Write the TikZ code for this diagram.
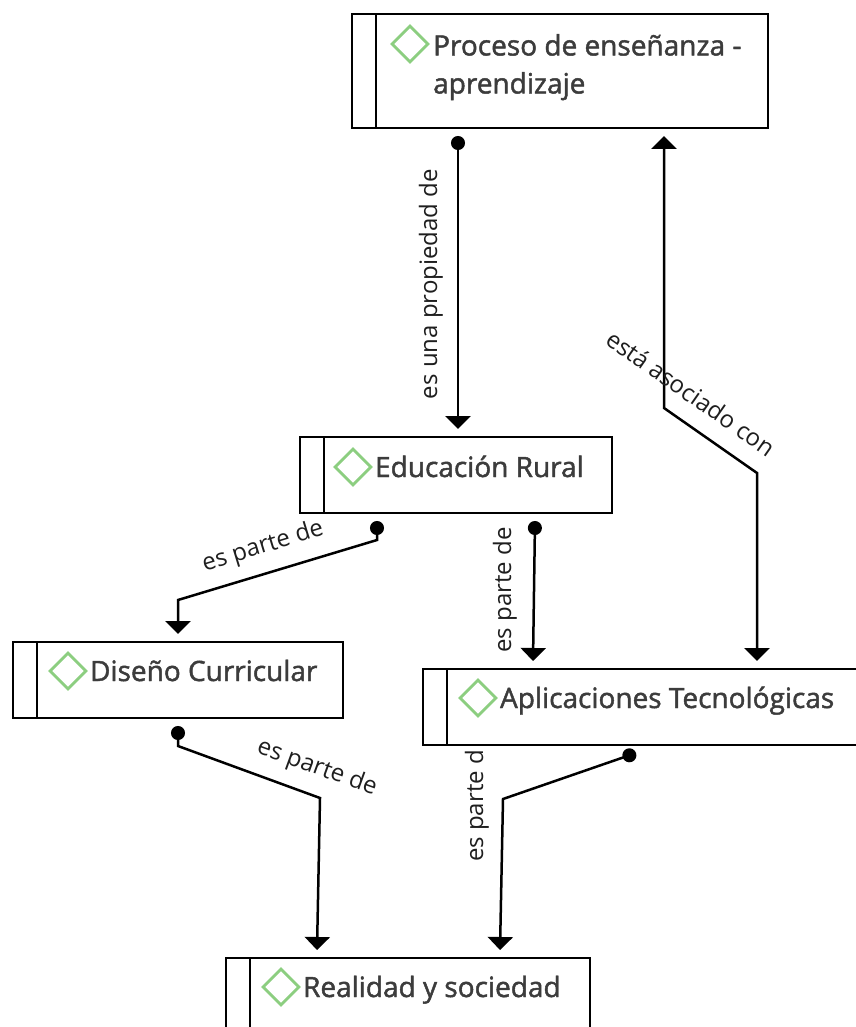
\documentclass[tikz,border=0pt]{standalone}
\usepackage{fontspec}
\setmainfont{Open Sans}
\newfontfamily\conceptfont{Open Sans}[FakeBold=1.6]
\usetikzlibrary{arrows.meta,positioning,shapes.geometric}
\definecolor{leafgreen}{RGB}{140,206,128}
\definecolor{textgray}{RGB}{60,60,60}
\definecolor{labelgray}{RGB}{30,30,30}

\tikzset{
    concept/.style={draw, line width=2.6pt, inner sep=0pt, outer sep=8pt, minimum height=76pt,
        path picture={\draw[line width=2.6pt] ([xshift=24pt]path picture bounding box.north west) -- ([xshift=24pt]path picture bounding box.south west);}},
    marker/.style={diamond, draw=leafgreen, line width=2.8pt, minimum width=37pt, minimum height=37pt, inner sep=0pt},
    ctext/.style={font=\conceptfont\fontsize{28}{38}\selectfont, text=textgray, inner sep=0pt, text height=20pt, text depth=0pt},
    rel/.style={font=\fontsize{24}{28}\selectfont, text=labelgray, inner sep=0pt},
    link/.style={line width=2.5pt, {Circle[length=14pt,width=14pt]}-{Triangle[length=13pt,width=25pt]}},
    bilink/.style={line width=2.5pt, {Triangle[length=13pt,width=25pt]}-{Triangle[length=13pt,width=25pt]}},
}

\begin{document}
\begin{tikzpicture}[x=1pt, y=-1pt]
    \useasboundingbox (0,0) rectangle (855,1027);

    % concepts
    \node[concept, minimum width=416pt, minimum height=114pt] (proc) at (560, 71) {};
    \node[marker] (proc-m) at (410, 44) {};
    \node[ctext, anchor=north west, align=left, text height=] (proc-t) at (433, 34) {Proceso de enseñanza -\\aprendizaje};

    \node[concept, minimum width=312pt] (edu) at (456, 475) {};
    \node[marker] (edu-m) at (353, 467) {};
    \node[ctext, right=2pt of edu-m] (edu-t) {Educación Rural};

    \node[concept, minimum width=330pt] (dis) at (178, 680) {};
    \node[marker] (dis-m) at (68, 671) {};
    \node[ctext, right=2pt of dis-m] (dis-t) {Diseño Curricular};

    \node[concept, minimum width=444pt] (apl) at (645, 707) {};
    \node[marker] (apl-m) at (478, 698) {};
    \node[ctext, right=2pt of apl-m] (apl-t) {Aplicaciones Tecnológicas};

    \node[concept, minimum width=364pt] (real) at (408, 996) {};
    \node[marker] (real-m) at (281, 987) {};
    \node[ctext, right=2pt of real-m] (real-t) {Realidad y sociedad};

    % bends
    \coordinate (asoc-a) at (757, 473);
    \coordinate (asoc-b) at (664, 408);
    \coordinate (edu-dis-a) at (377, 540);
    \coordinate (edu-dis-b) at (178, 600);
    \coordinate (dis-real-a) at (178, 746);
    \coordinate (dis-real-b) at (320, 798);
    \coordinate (apl-real-a) at (503, 799);

    % links
    \draw[link] (458,0 |- proc.south) to (458,0 |- edu.north);
    \draw[bilink] (757,0 |- apl.north) -- (asoc-a) -- (asoc-b) -- (664,0 |- proc.south);
    \draw[link] (377,0 |- edu.south) -- (edu-dis-a) -- (edu-dis-b) -- (dis.north);
    \draw[link] (535,0 |- edu.south) to (533,0 |- apl.north);
    \draw[link] (dis.south) -- (dis-real-a) -- (dis-real-b) -- (317,0 |- real.north);
    \draw[link] (636,0 |- apl.south) -- (apl-real-a) -- (500,0 |- real.north);

    % link labels
    \node[rel, rotate=90] (prop-l) at (431, 284) {es una propiedad de};
    \node[rel, rotate=-35] (asoc-l) at (691, 393) {está asociado con};
    \node[rel, rotate=17] (edu-dis-l) at (263, 547) {es parte de};
    \node[rel, rotate=90] (edu-apl-l) at (505, 590) {es parte de};
    \node[rel, rotate=-20] (dis-real-l) at (317, 768) {es parte de};
    \node[rel, rotate=90] (apl-real-l) at (477, 806) {es parte d};
\end{tikzpicture}
\end{document}
